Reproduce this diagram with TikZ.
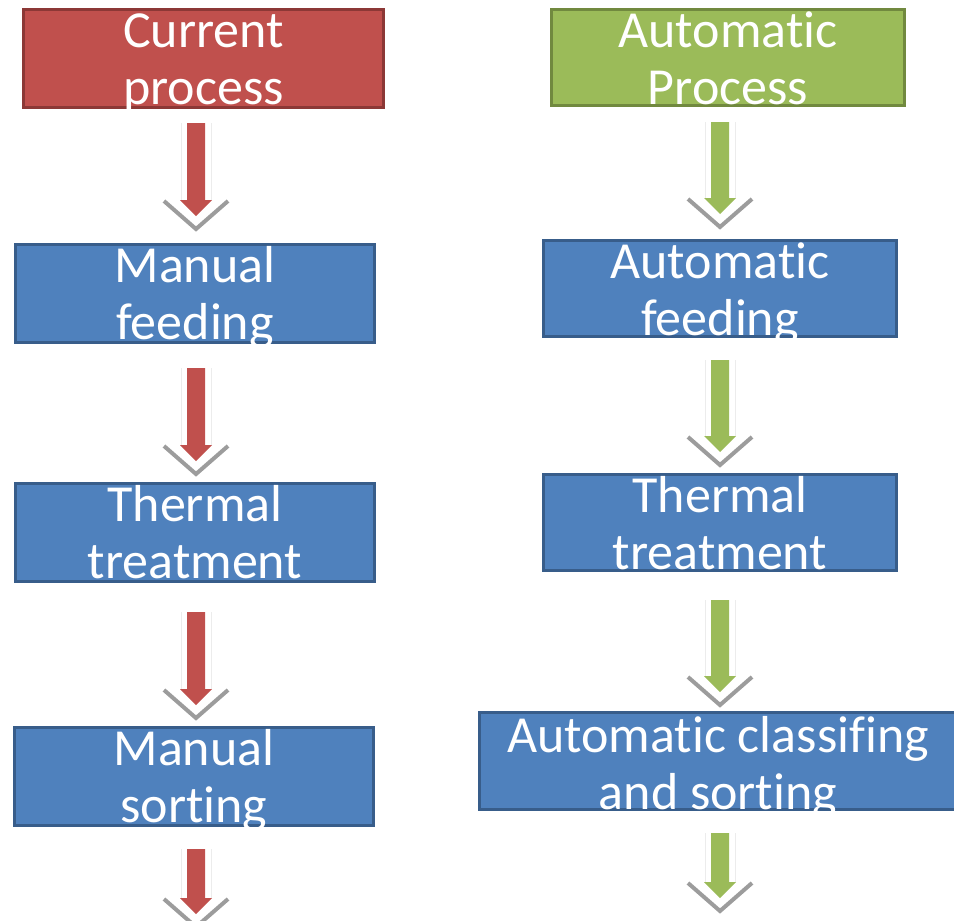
\documentclass[tikz,border=0pt]{standalone}
\usepackage{fontspec}
\setmainfont{Carlito}[Ligatures=CommonOff]
\definecolor{redfill}{HTML}{C0504D}
\definecolor{redline}{HTML}{8C3836}
\definecolor{greenfill}{HTML}{9BBB59}
\definecolor{greenline}{HTML}{71893F}
\definecolor{bluefill}{HTML}{4F81BD}
\definecolor{blueline}{HTML}{385D8A}
\definecolor{chev}{HTML}{9C9C9C}
\definecolor{glow}{HTML}{ECECEC}
\tikzset{
  box/.style={draw, line width=3pt, rectangle, inner sep=0pt},
  redbox/.style={box, fill=redfill, draw=redline},
  greenbox/.style={box, fill=greenfill, draw=greenline},
  bluebox/.style={box, fill=bluefill, draw=blueline},
  txt/.style={text=white, inner sep=0pt, anchor=base, font=\fontsize{52}{57}\selectfont},
}
\newcommand{\barrow}[4]{%
  \draw[line width=1pt, glow] (#1-15,#2) -- (#1-15,#2+#3) (#1+15,#2) -- (#1+15,#2+#3);
  \draw[line width=4pt, chev, miter limit=10] (#1-32,#2+#3+1) -- (#1,#2+#3+29) -- (#1+32,#2+#3+1);
  \fill[#4] (#1-9,#2) -- (#1+9,#2) -- (#1+9,#2+#3) -- (#1+16,#2+#3) -- (#1,#2+#3+16) -- (#1-16,#2+#3) -- (#1-9,#2+#3) -- cycle;
}
\begin{document}
\begin{tikzpicture}[x=1pt, y=-1pt]
  \useasboundingbox (0,0) rectangle (954,921);
  \clip (0,0) rectangle (954,921);
  % left column
  \node[redbox, minimum width=360pt, minimum height=98pt] (cur) at (203.5,58.5) {};
  \node[txt] at ([yshift=-39pt]cur.north) {\begin{tabular}[t]{@{}c@{}}Current\\process\end{tabular}};
  \node[bluebox, minimum width=359pt, minimum height=98pt] (mf) at (195,293.5) {};
  \node[txt] at ([yshift=-39pt]mf.north) {\begin{tabular}[t]{@{}c@{}}Manual\\feeding\end{tabular}};
  \node[bluebox, minimum width=359pt, minimum height=98pt] (tl) at (195,532.5) {};
  \node[txt] at ([yshift=-39pt]tl.north) {\begin{tabular}[t]{@{}c@{}}Thermal\\treatment\end{tabular}};
  \node[bluebox, minimum width=359pt, minimum height=98pt] (ms) at (194,776.5) {};
  \node[txt] at ([yshift=-39pt]ms.north) {\begin{tabular}[t]{@{}c@{}}Manual\\sorting\end{tabular}};
  % right column
  \node[greenbox, minimum width=353pt, minimum height=96pt] (auto) at (728,57.5) {};
  \node[txt] at ([yshift=-39pt]auto.north) {\begin{tabular}[t]{@{}c@{}}Automatic\\Process\end{tabular}};
  \node[bluebox, minimum width=353pt, minimum height=96pt] (af) at (720,288.5) {};
  \node[txt] at ([yshift=-39pt]af.north) {\begin{tabular}[t]{@{}c@{}}Automatic\\feeding\end{tabular}};
  \node[bluebox, minimum width=353pt, minimum height=96pt] (tr) at (720,522.5) {};
  \node[txt] at ([yshift=-39pt]tr.north) {\begin{tabular}[t]{@{}c@{}}Thermal\\treatment\end{tabular}};
  \node[bluebox, minimum width=480pt, minimum height=97pt] (acs) at (719,761) {};
  \node[txt] at (718,752) {\begin{tabular}[t]{@{}c@{}}Automatic classifing\\and sorting\end{tabular}};
  % arrows
  \barrow{196}{123}{77}{redfill}
  \barrow{196}{368}{77}{redfill}
  \barrow{196}{612}{77}{redfill}
  \barrow{196}{849}{49}{redfill}
  \barrow{720}{122}{76}{greenfill}
  \barrow{720}{360}{76}{greenfill}
  \barrow{720}{600}{76}{greenfill}
  \barrow{720}{833}{49}{greenfill}
\end{tikzpicture}
\end{document}
